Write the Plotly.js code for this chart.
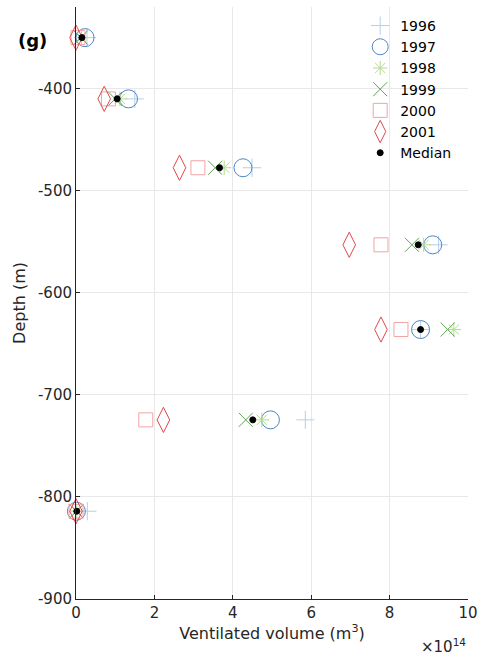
<!DOCTYPE html>
<html>
<head>
<meta charset="utf-8">
<script src="https://cdn.plot.ly/plotly-3.0.1.min.js"></script>
<style>
html,body{margin:0;padding:0;background:#fff;}
#chart{width:485px;height:661px;}
</style>
</head>
<body>
<div id="chart"></div>
<script>
// Depth levels (m)
const depth = [-350, -410, -477.5, -553, -636, -724.5, -814];
// Ventilated volume, in units of 1e14 m^3
const vol1996 = [0.28, 1.50, 4.49, 9.25, 8.79, 5.85, 0.29];
const vol1997 = [0.23, 1.34, 4.26, 9.10, 8.79, 4.96, 0.01];
const vol1998 = [0.14, 1.12, 3.78, 8.87, 9.64, 4.74, 0.02];
const vol1999 = [0.12, 1.00, 3.55, 8.57, 9.48, 4.33, 0.01];
const vol2000 = [0.05, 0.83, 3.11, 7.78, 8.29, 1.78, 0.00];
const vol2001 = [0.00, 0.72, 2.64, 6.97, 7.78, 2.23, 0.00];
const volMedian = [0.15, 1.05, 3.66, 8.73, 8.79, 4.51, 0.02];

const seriesNames = ['1996', '1997', '1998', '1999', '2000', '2001', 'Median'];
const xTicks = [0, 2, 4, 6, 8, 10];
const yTicks = [-900, -800, -700, -600, -500, -400];

const seriesData = [vol1996, vol1997, vol1998, vol1999, vol2000, vol2001, volMedian];
const styles = [
  {symbol: 'cross-thin-open', size: 13, color: '#b4cfe8'},
  {symbol: 'circle-open', size: 18, color: '#4f86c6'},
  {symbol: 'asterisk-open', size: 12, color: '#b3dc8c'},
  {symbol: 'x-thin-open', size: 14, color: '#5ea552'},
  {symbol: 'square-open', size: 14, color: '#f2a4a4'},
  {symbol: 'diamond-tall-open', size: 18, color: '#e0474c'},
  {symbol: 'circle', size: 6, color: '#000000'}
];

const traces = seriesData.map((vals, i) => ({
  type: 'scatter',
  mode: 'markers',
  name: seriesNames[i],
  x: vals,
  y: depth,
  marker: {
    symbol: styles[i].symbol,
    size: styles[i].size,
    color: styles[i].color,
    line: {color: styles[i].color, width: 1}
  },
  cliponaxis: false
}));

const axisColor = '#262626';
const fontFam = 'DejaVu Sans, Liberation Sans, sans-serif';
const layout = {
  width: 485,
  height: 661,
  margin: {l: 76, r: 17, t: 7, b: 62},
  paper_bgcolor: '#ffffff',
  plot_bgcolor: '#ffffff',
  font: {family: fontFam, size: 15, color: axisColor},
  showlegend: true,
  legend: {
    x: 0.725, y: 0.995, xanchor: 'left', yanchor: 'top',
    bgcolor: 'rgba(255,255,255,0)', borderwidth: 0,
    font: {size: 14, color: '#000'},
    itemwidth: 30, tracegroupgap: 0
  },
  xaxis: {
    range: [0, 10],
    tickvals: xTicks,
    ticktext: xTicks.map(String),
    ticks: 'inside', ticklen: 4, tickcolor: axisColor,
    showline: true, linecolor: axisColor, linewidth: 1,
    showgrid: true, gridcolor: '#e8e8e8', gridwidth: 1,
    zeroline: false,
    mirror: false,
    title: {text: 'Ventilated volume (m<sup>3</sup>)', font: {size: 16, color: axisColor}, standoff: 6},
    tickfont: {size: 15, color: axisColor}
  },
  yaxis: {
    range: [-900, -320],
    tickvals: yTicks,
    ticktext: yTicks.map(String),
    ticks: 'inside', ticklen: 4, tickcolor: axisColor,
    showline: true, linecolor: axisColor, linewidth: 1,
    showgrid: true, gridcolor: '#e8e8e8', gridwidth: 1,
    zeroline: false,
    title: {text: 'Depth (m)', font: {size: 16, color: axisColor}, standoff: 8},
    tickfont: {size: 15, color: axisColor}
  },
  annotations: [
    {text: '<b>(g)</b>', xref: 'paper', yref: 'paper', x: -0.112, y: 0.944,
     xanchor: 'center', yanchor: 'middle', showarrow: false,
     font: {size: 18, color: '#000'}},
    {text: '×10<sup>14</sup>', xref: 'paper', yref: 'paper', x: 1.0, y: -0.08,
     xanchor: 'right', yanchor: 'middle', showarrow: false,
     font: {size: 15, color: axisColor}}
  ]
};

Plotly.newPlot('chart', traces, layout, {displayModeBar: false, staticPlot: true});
</script>
</body>
</html>
